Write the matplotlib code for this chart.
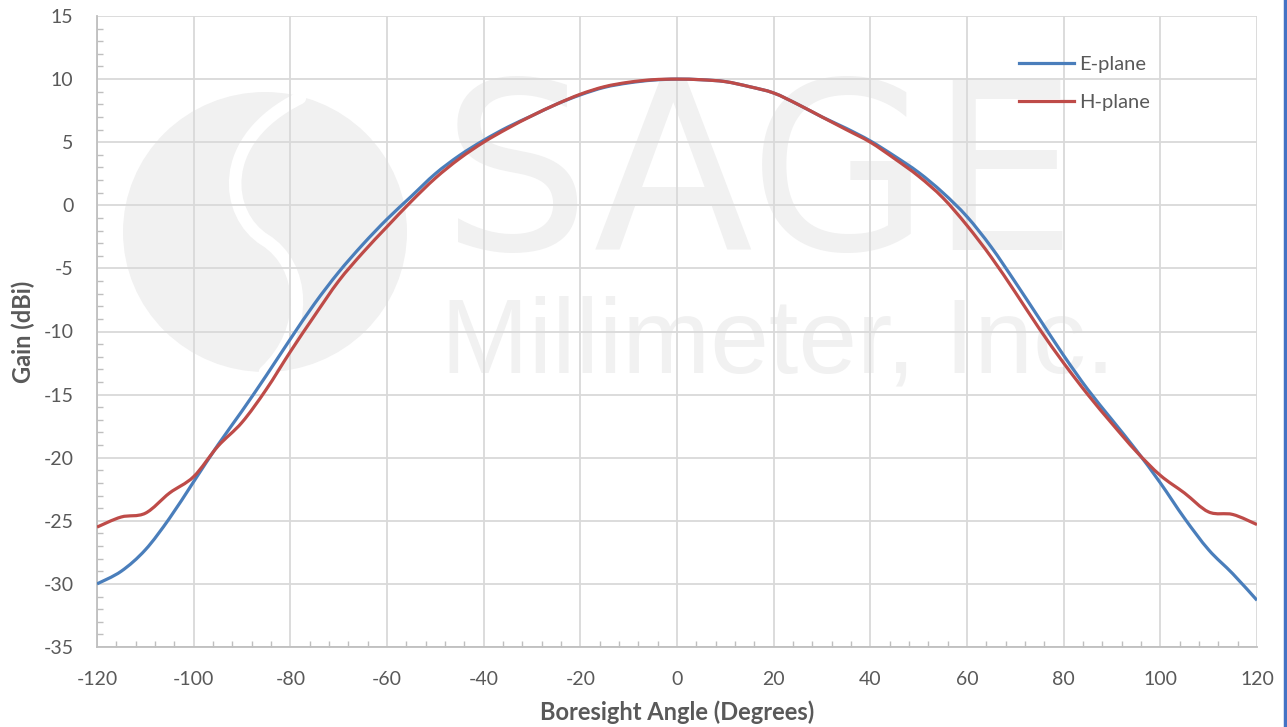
import numpy as np
import matplotlib
matplotlib.use('Agg')
import matplotlib.pyplot as plt
from matplotlib.patches import Ellipse, PathPatch
from matplotlib.path import Path
from matplotlib.lines import Line2D

plt.rcParams['font.family'] = ['Lato', 'DejaVu Sans']
plt.rcParams['axes.unicode_minus'] = False

# boresight angle in degrees
angle = np.arange(-120, 121, 5)

# E-plane gain (dBi)
e_plane = [-30.0, -29.0, -27.3, -24.8, -21.9, -19.0, -16.3, -13.5, -10.6, -7.8,
           -5.3, -3.1, -1.1, 0.7, 2.5, 3.95, 5.15, 6.2, 7.1, 8.0,
           8.75, 9.35, 9.7, 9.92, 10.0, 9.95, 9.8, 9.4, 8.9, 8.0,
           7.0, 6.1, 5.1, 3.9, 2.6, 1.0, -0.9, -3.3, -6.1, -9.0,
           -11.9, -14.6, -17.0, -19.4, -22.0, -24.8, -27.3, -29.2, -31.3]

# H-plane gain (dBi)
h_plane = [-25.5, -24.7, -24.4, -22.8, -21.5, -19.1, -17.2, -14.6, -11.6, -8.75,
           -6.0, -3.75, -1.7, 0.3, 2.15, 3.7, 5.0, 6.1, 7.1, 8.0,
           8.8, 9.4, 9.75, 9.95, 10.0, 9.95, 9.8, 9.4, 8.9, 8.0,
           7.0, 6.0, 5.0, 3.7, 2.3, 0.6, -1.6, -4.1, -6.9, -9.8,
           -12.5, -15.0, -17.3, -19.5, -21.4, -22.8, -24.3, -24.5, -25.3]

txt = '#595959'
grid = '#d9d9d9'
blue = '#4a7ebb'
red = '#be4b48'


def smooth_path(x, y):
    # Excel style smoothed line: bezier segments through the data points
    p = np.column_stack([x, y]).astype(float)
    ext = np.vstack([p[0], p, p[-1]])
    verts = [p[0]]
    codes = [Path.MOVETO]
    for i in range(len(p) - 1):
        a, b, c, d = ext[i], ext[i + 1], ext[i + 2], ext[i + 3]
        verts += [b + (c - a) / 6, c - (d - b) / 6, c]
        codes += [Path.CURVE4] * 3
    return Path(verts, codes)


fig = plt.figure(figsize=(12.87, 7.27), dpi=100)

# background layer in pixel units for the watermark
bg = fig.add_axes([0, 0, 1, 1], zorder=0)
bg.set_xlim(0, 1287)
bg.set_ylim(727, 0)
bg.axis('off')
wm = '#f1f1f1'
bg.add_patch(Ellipse((265, 232), 284, 280, color=wm, lw=0))
s_path = Path([(300, 98), (215, 140), (225, 215), (265, 240),
               (305, 265), (310, 330), (265, 372)],
              [Path.MOVETO, Path.CURVE4, Path.CURVE4, Path.CURVE4,
               Path.CURVE4, Path.CURVE4, Path.CURVE4])
bg.add_patch(PathPatch(s_path, fill=False, edgecolor='white', lw=9,
                       capstyle='round'))
bg.text(760, 250, 'SAGE', fontsize=168, color=wm, ha='center', va='baseline',
        family='DejaVu Sans')
bg.text(778, 372, 'Millimeter, Inc.', fontsize=76, color=wm, ha='center',
        va='baseline', family='Liberation Sans')
bg.plot([1285, 1285], [0, 727], color='#4472c4', lw=2.5)

ax = fig.add_axes([97 / 1287, 1 - 647 / 727, 1160 / 1287, 631 / 727], zorder=1)
ax.patch.set_alpha(0)

ax.add_patch(PathPatch(smooth_path(angle, e_plane), fill=False,
                       edgecolor=blue, lw=2.3, zorder=3))
ax.add_patch(PathPatch(smooth_path(angle, h_plane), fill=False,
                       edgecolor=red, lw=2.3, zorder=4))

ax.set_xlim(-120, 120)
ax.set_ylim(-35, 15)
ax.set_xticks(np.arange(-120, 121, 20))
ax.set_yticks(np.arange(-35, 16, 5))
ax.set_xticks(np.arange(-120, 121, 4), minor=True)
ax.set_yticks(np.arange(-35, 16, 1), minor=True)
ax.grid(True, which='major', color=grid, lw=1.3)
ax.set_axisbelow(True)

for s in ['top', 'right']:
    ax.spines[s].set_visible(False)
for s in ['left', 'bottom']:
    ax.spines[s].set_color('#bfbfbf')
    ax.spines[s].set_linewidth(1.3)

ax.tick_params(which='major', length=0, labelsize=14, labelcolor=txt)
ax.tick_params(axis='y', which='major', pad=17)
ax.tick_params(axis='x', which='major', pad=17)
ax.tick_params(which='minor', direction='in', length=4, color='#bfbfbf', width=1)

ax.set_xlabel('Boresight Angle (Degrees)', fontsize=17, fontweight='bold',
              color=txt, labelpad=9)
ax.set_ylabel('Gain (dBi)', fontsize=17, fontweight='bold', color=txt,
              labelpad=6)

handles = [Line2D([], [], color=blue, lw=2.3), Line2D([], [], color=red, lw=2.3)]
ax.legend(handles, ['E-plane', 'H-plane'], loc='upper left',
          bbox_to_anchor=(1001 / 1287, 1 - 38 / 727),
          bbox_transform=fig.transFigure, frameon=False, fontsize=14.5,
          handlelength=2.7, handletextpad=0.3, labelspacing=1.05,
          labelcolor=txt)

fig.savefig('out.png', dpi=100)
